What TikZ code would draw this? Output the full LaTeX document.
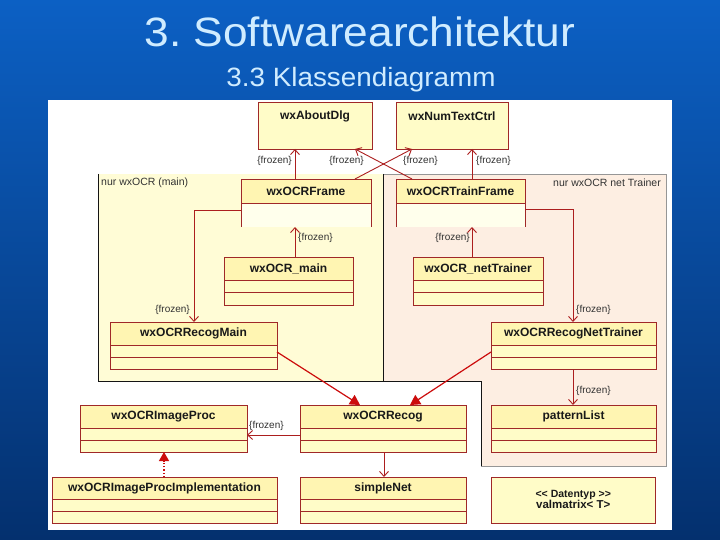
\documentclass[tikz,border=0pt]{standalone}
\usepackage{fontspec}
\setmainfont{Liberation Sans}
\usetikzlibrary{calc,arrows.meta}
\definecolor{bgtop}{RGB}{12,96,196}
\definecolor{bgmid}{RGB}{9,78,165}
\definecolor{bgbot}{RGB}{4,48,110}
\definecolor{titlecol}{RGB}{208,236,255}
\definecolor{mainpkg}{RGB}{255,252,214}
\definecolor{trainpkg}{RGB}{253,238,226}
\definecolor{bodycol}{RGB}{255,252,200}
\definecolor{hdcol}{RGB}{255,245,178}
\definecolor{framecol}{RGB}{255,255,236}
\definecolor{clscol}{RGB}{160,40,40}
\definecolor{assoccol}{RGB}{172,30,30}
\definecolor{gencol}{RGB}{204,12,12}
\definecolor{labcol}{RGB}{50,50,50}
\definecolor{pkgcol}{RGB}{20,20,20}
\definecolor{pkggray}{RGB}{150,150,150}
\newcommand\umlklasse[7]{%
  \node[clsbody, minimum width=#4pt, minimum height=#5pt, anchor=north west] (#1) at (#2,#3) {};
  \fill[hdcol] (#1.north west) rectangle ($(#1.north east)+(0,#6)$);
  \draw[clsline] ($(#1.north west)+(0,#6)$) -- ($(#1.north east)+(0,#6)$);
  \draw[clsline] ($(#1.north west)+(0,#6+12)$) -- ($(#1.north east)+(0,#6+12)$);
  \draw[clsline] (#1.north west) rectangle (#1.south east);
  \node[clsname] (#1-t) at ($(#1.north)+(0,#6/2)$) {#7};
}
\newcommand\umlframe[6]{%
  \node[clsbody, fill=framecol, minimum width=#4pt, minimum height=#5pt, anchor=north west] (#1) at (#2,#3) {};
  \fill[hdcol] (#1.north west) rectangle ($(#1.north east)+(0,24)$);
  \draw[clsline] ($(#1.north west)+(0,24)$) -- ($(#1.north east)+(0,24)$);
  \draw[clsline] (#1.south west) -- (#1.north west) -- (#1.north east) -- (#1.south east);
  \node[clsname] (#1-t) at ($(#1.north)+(0,12.5)$) {#6};
}
\begin{document}
\begin{tikzpicture}[x=1pt,y=-1pt,
  clsbody/.style={fill=bodycol, draw=none, inner sep=0pt, outer sep=0pt},
  clsline/.style={draw=clscol, line width=0.8pt},
  clsname/.style={font=\bfseries\fontsize{12}{14}\selectfont, text=black!90, inner sep=0pt},
  frz/.style={font=\fontsize{10}{12}\selectfont, text=labcol, inner sep=0pt},
  pkglab/.style={font=\fontsize{10.5}{12}\selectfont, text=labcol, inner sep=0pt},
  pkgline/.style={draw=pkgcol, line width=0.8pt},
  pkgline2/.style={draw=pkggray, line width=0.7pt},
  assoc/.style={draw=assoccol, line width=0.9pt, -{Straight Barb[length=5pt,width=9pt]}},
  gen/.style={draw=gencol, line width=1.2pt, -{Triangle[length=10pt,width=11pt]}},
  real/.style={draw=gencol, line width=1.2pt, dotted, -{Triangle[length=9pt,width=10pt]}}]
\useasboundingbox (0,0) rectangle (720,540);
\shade[top color=bgtop, middle color=bgmid, bottom color=bgbot] (0,0) rectangle (720,540);
% titles
\node[anchor=base, text=titlecol, font=\fontsize{41}{48}\selectfont, xscale=1.08, inner sep=0pt] (title) at (360,46.7) {3.\hspace{-4pt} Softwarearchitektur};
\node[anchor=base, text=titlecol, font=\fontsize{26.5}{32}\selectfont, xscale=1.05, inner sep=0pt] (subtitle) at (361,87) {3.3 Klassendiagramm};
% panel
\fill[white] (48,100) rectangle (672,530);
% packages
\fill[trainpkg] (383,174) rectangle (666,466);
\fill[mainpkg] (98,174) rectangle (383,381);
\fill[white] (383,381) rectangle (481,466);
\draw[pkgline2] (383,174) -- (666,174) -- (666,466) -- (481,466);
\draw[pkgline] (98,174) -- (98,381) -- (481,381) -- (481,466);
\draw[pkgline] (383,174) -- (383,381);
\node[pkglab, anchor=west] (pkmain) at (101,182.5) {nur wxOCR (main)};
\node[pkglab, anchor=east] (pktrain) at (661,182.5) {nur wxOCR net Trainer};
% top classes
\node[clsbody, draw=clscol, line width=0.8pt, minimum width=114pt, minimum height=47pt, anchor=north west] (about) at (258,102) {};
\node[clsname] (about-t) at ($(about.north)+(0,14.5)$) {wxAboutDlg};
\node[clsbody, draw=clscol, line width=0.8pt, minimum width=112pt, minimum height=47pt, anchor=north west] (numtext) at (396,102) {};
\node[clsname] (numtext-t) at ($(numtext.north)+(0,14.5)$) {wxNumTextCtrl};
% frames
\umlframe{oframe}{241}{179}{130}{48}{wxOCRFrame}
\umlframe{trainframe}{396}{179}{129}{48}{wxOCRTrainFrame}
% classes
\umlklasse{omain}{224}{257}{129}{48}{23.5}{wxOCR\_main}
\umlklasse{onet}{413}{257}{130}{48}{23.5}{wxOCR\_netTrainer}
\umlklasse{recogmain}{110}{322}{167}{47.5}{23.5}{wxOCRRecogMain}
\umlklasse{recognet}{491}{322}{165}{47.5}{23.5}{wxOCRRecogNetTrainer}
\umlklasse{imageproc}{80}{405}{167}{47}{23}{wxOCRImageProc}
\umlklasse{recog}{300}{405}{166}{47}{23}{wxOCRRecog}
\umlklasse{pattern}{491}{405}{165}{47}{23}{patternList}
\umlklasse{impl}{52}{477}{225}{46}{22.5}{wxOCRImageProcImplementation}
\umlklasse{simplenet}{300}{477}{166}{46}{22.5}{simpleNet}
% datatype
\node[clsbody, draw=clscol, line width=0.8pt, minimum width=164.5pt, minimum height=46pt, anchor=north west] (valm) at (491,477) {};
\node[inner sep=0pt, align=center, font=\bfseries, text=black!90] (valm-t) at ($(valm.center)+(0,-0.5)$)
  {{\fontsize{10.5}{11.5}\selectfont \textless\kern0pt\textless{} Datentyp \textgreater\kern0pt\textgreater\hspace{14pt}}\\[-0.5pt]
   {\fontsize{11.5}{12}\selectfont valmatrix\textless{} T\textgreater}};
% associations
\draw[assoc] ($(oframe.north west)+(54,0)$) coordinate (a1) -- (a1 |- about.south);
\node[frz, anchor=east] (f1) at ($(about.south west)+(34,11.5)$) {\{frozen\}};
\draw[assoc] ($(oframe.north east)+(-16,0)$) -- ($(numtext.south west)+(16,0)$);
\node[frz, anchor=west] (f2) at ($(numtext.south west)+(7,12)$) {\{frozen\}};
\draw[assoc] ($(trainframe.north west)+(16,0)$) -- ($(about.south east)+(-17,0)$);
\node[frz, anchor=east] (f3) at ($(about.south east)+(-8,12)$) {\{frozen\}};
\draw[assoc] ($(trainframe.north west)+(76,0)$) coordinate (a4) -- (a4 |- numtext.south);
\node[frz, anchor=west] (f4) at ($(numtext.south west)+(80,12)$) {\{frozen\}};
\draw[assoc] ($(omain.north west)+(71,0)$) coordinate (a5) -- (a5 |- oframe.south);
\node[frz, anchor=west] (f5) at ($(oframe.south west)+(57,11)$) {\{frozen\}};
\draw[assoc] ($(onet.north west)+(59,0)$) coordinate (a6) -- (a6 |- trainframe.south);
\node[frz, anchor=east] (f6) at ($(trainframe.south west)+(74,11)$) {\{frozen\}};
\draw[assoc] ($(oframe.north west)+(0,31)$) -| ($(recogmain.north west)+(84,0)$);
\node[frz, anchor=east] (f7) at ($(recogmain.north west)+(80,-12)$) {\{frozen\}};
\draw[assoc] ($(trainframe.north east)+(0,30.5)$) -| ($(recognet.north west)+(82,0)$);
\node[frz, anchor=west] (f8) at ($(recognet.north west)+(85,-12)$) {\{frozen\}};
\draw[assoc] ($(recog.north west)+(0,30)$) coordinate (a9) -- (a9 -| imageproc.east);
\node[frz, anchor=west] (f9) at ($(imageproc.north east)+(2,21)$) {\{frozen\}};
\draw[assoc] ($(recog.south west)+(84,0)$) coordinate (a10) -- (a10 |- simplenet.north);
\draw[assoc] ($(recognet.south west)+(82,0)$) coordinate (a11) -- (a11 |- pattern.north);
\node[frz, anchor=west] (f11) at ($(recognet.south west)+(85,21.5)$) {\{frozen\}};
% generalizations
\draw[gen] ($(recogmain.north east)+(0,30)$) -- ($(recog.north west)+(60,0)$);
\draw[gen] ($(recognet.north west)+(0,30)$) -- ($(recog.north west)+(110,0)$);
% realization
\draw[real] ($(impl.north west)+(112,0)$) coordinate (r1) -- (r1 |- imageproc.south);
\end{tikzpicture}
\end{document}
